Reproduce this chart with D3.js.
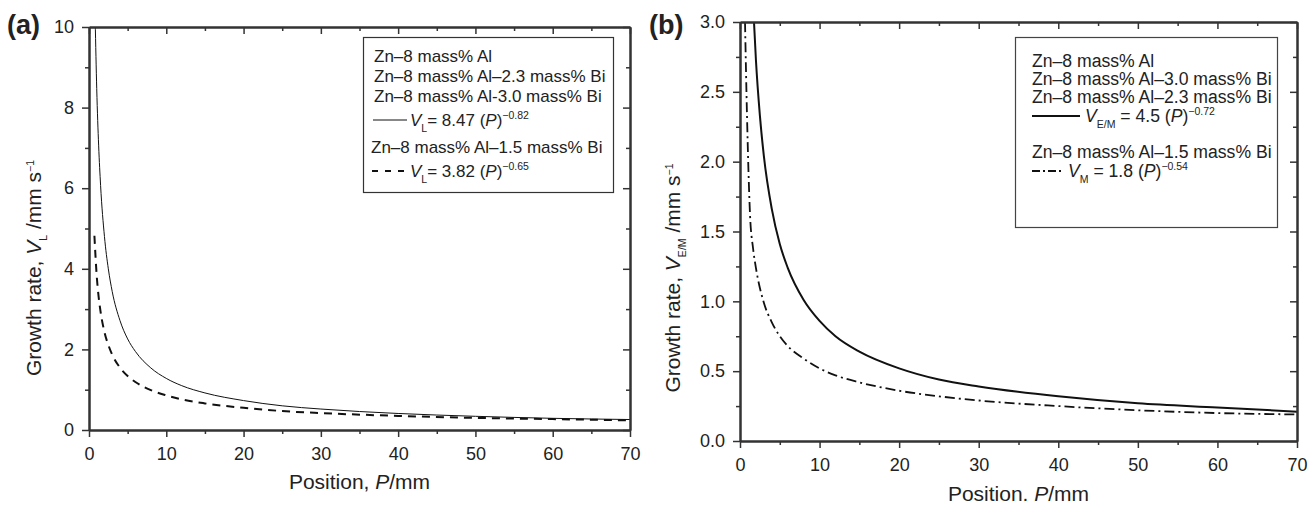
<!DOCTYPE html>
<html>
<head>
<meta charset="utf-8">
<script src="https://cdn.jsdelivr.net/npm/d3@7"></script>
<style>
  body { margin: 0; background: #fff; }
  svg { display: block; font-family: 'Liberation Sans', Arial, sans-serif; }
  .domain { stroke: #333; stroke-width: 2; }
  .tick line { stroke: #333; stroke-width: 1.5; }
  .tick text { font-size: 18px; fill: #222; }
  .title { font-size: 21px; fill: #222; }
  .legend { font-size: 17px; fill: #222; }
  .legend-b { font-size: 17.6px; fill: #222; }
</style>
</head>
<body>
<svg class="chart" width="1309" height="505"></svg>
<script>
// (a) V_L fits
const posA_L = [0.8, 1, 1.25, 1.5, 2, 2.5, 3, 4, 5, 6, 8, 10, 12, 15, 20, 25, 30, 40, 50, 60, 70];
const velA_L = [10.17, 8.47, 7.05, 6.07, 4.80, 4.00, 3.44, 2.72, 2.26, 1.95, 1.54, 1.28, 1.10, 0.92, 0.73, 0.60, 0.52, 0.41, 0.34, 0.29, 0.26];
const posA_Bi = [0.7, 1, 1.25, 1.5, 2, 2.5, 3, 4, 5, 6, 8, 10, 12, 15, 20, 25, 30, 40, 50, 60, 70];
const velA_Bi = [4.82, 3.82, 3.30, 2.93, 2.43, 2.11, 1.87, 1.55, 1.34, 1.19, 0.99, 0.86, 0.76, 0.66, 0.55, 0.47, 0.42, 0.35, 0.30, 0.27, 0.24];

// (b) V_E/M and V_M fits
const posB_EM = [1.75, 2, 2.5, 3, 4, 5, 6, 8, 10, 12, 15, 20, 25, 30, 40, 50, 60, 70];
const velB_EM = [3.01, 2.73, 2.33, 2.04, 1.66, 1.41, 1.24, 1.01, 0.86, 0.75, 0.64, 0.52, 0.44, 0.39, 0.32, 0.27, 0.24, 0.21];
const posB_M = [0.63, 0.88, 1.26, 1.64, 2, 3, 4, 5, 6, 8, 10, 12, 15, 20, 25, 30, 40, 50, 60, 70];
const velB_M = [3.0, 2.33, 1.62, 1.38, 1.24, 0.99, 0.85, 0.75, 0.68, 0.59, 0.52, 0.47, 0.42, 0.36, 0.32, 0.29, 0.25, 0.22, 0.20, 0.19];

const xMajor = [0, 10, 20, 30, 40, 50, 60, 70];
const xMinor = [5, 15, 25, 35, 45, 55, 65];
const yMajorA = [0, 2, 4, 6, 8, 10];
const yMinorA = [1, 3, 5, 7, 9];
const yMajorB = [0, 0.5, 1, 1.5, 2, 2.5, 3];
const yMinorB = [0.25, 0.75, 1.25, 1.75, 2.25, 2.75];

const legendA = [
  [{ t: 'Zn–8 mass% Al' }],
  [{ t: 'Zn–8 mass% Al–2.3 mass% Bi' }],
  [{ t: 'Zn–8 mass% Al-3.0 mass% Bi' }],
  [{ t: 'V', i: true }, { t: 'L', sub: true }, { t: '= 8.47 (' }, { t: 'P', i: true }, { t: ')' }, { t: '−0.82', sup: true }],
  [{ t: 'Zn–8 mass% Al–1.5 mass% Bi' }],
  [{ t: 'V', i: true }, { t: 'L', sub: true }, { t: '= 3.82 (' }, { t: 'P', i: true }, { t: ')' }, { t: '−0.65', sup: true }],
];
const legendB = [
  [{ t: 'Zn–8 mass% Al' }],
  [{ t: 'Zn–8 mass% Al–3.0 mass% Bi' }],
  [{ t: 'Zn–8 mass% Al–2.3 mass% Bi' }],
  [{ t: 'V', i: true }, { t: 'E/M', sub: true }, { t: ' = 4.5 (' }, { t: 'P', i: true }, { t: ')' }, { t: '−0.72', sup: true }],
  [{ t: 'Zn–8 mass% Al–1.5 mass% Bi' }],
  [{ t: 'V', i: true }, { t: 'M', sub: true }, { t: ' = 1.8 (' }, { t: 'P', i: true }, { t: ')' }, { t: '−0.54', sup: true }],
];

const richText = (parent, x, y, segs, cls) => {
  const text = parent.append('text').attr('x', x).attr('y', y).attr('class', cls);
  let shift = 0;
  segs.forEach((s) => {
    const span = text.append('tspan').text(s.t);
    let target = 0;
    if (s.sub) target = 6;
    if (s.sup) target = -7;
    if (target !== shift) span.attr('dy', target - shift);
    shift = target;
    if (s.i) span.attr('font-style', 'italic');
    if (s.sub || s.sup) span.attr('font-size', '10.5px');
  });
  return text;
};

const drawFrame = (g, x, y, w, h, yMajor, yMinor, fmt) => {
  const major = 7;
  const minor = 4;
  g.append('g')
    .call(d3.axisLeft(y).tickValues(yMinor).tickSize(minor).tickSizeOuter(0).tickFormat(''));
  g.append('g')
    .call(d3.axisLeft(y).tickValues(yMajor).tickSize(major).tickSizeOuter(0).tickPadding(8).tickFormat(fmt));
  g.append('g').attr('transform', `translate(${w},0)`)
    .call(d3.axisLeft(y).tickValues(yMinor).tickSize(minor).tickSizeOuter(0).tickFormat(''));
  g.append('g').attr('transform', `translate(${w},0)`)
    .call(d3.axisLeft(y).tickValues(yMajor).tickSize(major).tickSizeOuter(0).tickFormat(''));
  g.append('g').attr('transform', `translate(0,${h})`)
    .call(d3.axisBottom(x).tickValues(xMinor).tickSize(minor).tickSizeOuter(0).tickFormat(''));
  g.append('g').attr('transform', `translate(0,${h})`)
    .call(d3.axisBottom(x).tickValues(xMajor).tickSize(major).tickSizeOuter(0).tickPadding(10));
  g.append('g')
    .call(d3.axisBottom(x).tickValues(xMinor).tickSize(minor).tickSizeOuter(0).tickFormat(''));
  g.append('g')
    .call(d3.axisBottom(x).tickValues(xMajor).tickSize(major).tickSizeOuter(0).tickFormat(''));
};

const drawCurve = (g, x, y, pos, vel, width, dash, clipId) => {
  const line = d3.line()
    .x((d) => x(d[0]))
    .y((d) => y(d[1]))
    .curve(d3.curveMonotoneX);
  g.append('path')
    .datum(d3.zip(pos, vel))
    .attr('clip-path', `url(#${clipId})`)
    .attr('fill', 'none')
    .attr('stroke', '#111')
    .attr('stroke-width', width)
    .attr('stroke-dasharray', dash)
    .attr('d', line);
};

const startApp = () => {
  const svg = d3.select('.chart');
  const defs = svg.append('defs');

  // ---- panel (a)
  const a = { left: 89, top: 27, width: 541, height: 403 };
  const xA = d3.scaleLinear().domain([0, 70]).range([0, a.width]);
  const yA = d3.scaleLinear().domain([0, 10]).range([a.height, 0]);
  const gA = svg.append('g').attr('transform', `translate(${a.left},${a.top})`);
  defs.append('clipPath').attr('id', 'clipA')
    .append('rect').attr('width', a.width).attr('height', a.height);

  drawCurve(gA, xA, yA, posA_L, velA_L, 1, null, 'clipA');
  drawCurve(gA, xA, yA, posA_Bi, velA_Bi, 2, '8,6', 'clipA');
  drawFrame(gA, xA, yA, a.width, a.height, yMajorA, yMinorA, d3.format('d'));

  // legend (a)
  svg.append('rect')
    .attr('x', 363.5).attr('y', 37.5).attr('width', 250).attr('height', 155)
    .attr('fill', '#fff').attr('stroke', '#333').attr('stroke-width', 1.2);
  const legAy = [62, 82, 102, 126, 153, 177];
  const legAx = [374, 374, 374, 410, 371, 410];
  legendA.forEach((segs, i) => richText(svg, legAx[i], legAy[i], segs, 'legend'));
  svg.append('line').attr('x1', 373).attr('x2', 407).attr('y1', 120).attr('y2', 120)
    .attr('stroke', '#111').attr('stroke-width', 1);
  svg.append('line').attr('x1', 372).attr('x2', 408).attr('y1', 171).attr('y2', 171)
    .attr('stroke', '#111').attr('stroke-width', 2).attr('stroke-dasharray', '6,7');

  // ---- panel (b)
  const b = { left: 740, top: 22, width: 557, height: 419 };
  const xB = d3.scaleLinear().domain([0, 70]).range([0, b.width]);
  const yB = d3.scaleLinear().domain([0, 3]).range([b.height, 0]);
  const gB = svg.append('g').attr('transform', `translate(${b.left},${b.top})`);
  defs.append('clipPath').attr('id', 'clipB')
    .append('rect').attr('width', b.width).attr('height', b.height);

  drawCurve(gB, xB, yB, posB_EM, velB_EM, 2, null, 'clipB');
  drawCurve(gB, xB, yB, posB_M, velB_M, 1.8, '10,4,2,4', 'clipB');
  drawFrame(gB, xB, yB, b.width, b.height, yMajorB, yMinorB, d3.format('.1f'));

  // legend (b)
  svg.append('rect')
    .attr('x', 1015.5).attr('y', 37.5).attr('width', 262).attr('height', 190)
    .attr('fill', '#fff').attr('stroke', '#444').attr('stroke-width', 1.2);
  const legBy = [67, 85, 103, 122, 158, 177];
  const legBx = [1032, 1032, 1032, 1085, 1032, 1068];
  legendB.forEach((segs, i) => richText(svg, legBx[i], legBy[i], segs, 'legend-b'));
  svg.append('line').attr('x1', 1032).attr('x2', 1080).attr('y1', 116).attr('y2', 116)
    .attr('stroke', '#111').attr('stroke-width', 2);
  svg.append('line').attr('x1', 1032).attr('x2', 1064).attr('y1', 171).attr('y2', 171)
    .attr('stroke', '#111').attr('stroke-width', 1.8).attr('stroke-dasharray', '8,3,2,3');

  // ---- titles
  svg.append('text').attr('x', 7).attr('y', 34)
    .attr('font-size', '27px').attr('font-weight', 'bold').attr('fill', '#222').text('(a)');
  svg.append('text').attr('x', 649).attr('y', 34)
    .attr('font-size', '27px').attr('font-weight', 'bold').attr('fill', '#222').text('(b)');

  richText(svg, 0, 0, [{ t: 'Position, ' }, { t: 'P', i: true }, { t: '/mm' }], 'title')
    .attr('x', a.left + a.width / 2).attr('y', 489).attr('text-anchor', 'middle');
  richText(svg, 0, 0, [{ t: 'Position. ' }, { t: 'P', i: true }, { t: '/mm' }], 'title')
    .attr('x', b.left + b.width / 2).attr('y', 501).attr('text-anchor', 'middle');

  richText(svg, 0, 0, [{ t: 'Growth rate, ' }, { t: 'V', i: true }, { t: 'L', sub: true }, { t: ' /mm s' }, { t: '−1', sup: true }], 'title')
    .attr('text-anchor', 'middle')
    .attr('transform', 'translate(41,268) rotate(-90)');
  richText(svg, 0, 0, [{ t: 'Growth rate, ' }, { t: 'V', i: true }, { t: 'E/M', sub: true }, { t: ' /mm s' }, { t: '−1', sup: true }], 'title')
    .attr('text-anchor', 'middle')
    .attr('transform', 'translate(680,278) rotate(-90)');
};

window.onload = startApp;
</script>
</body>
</html>
